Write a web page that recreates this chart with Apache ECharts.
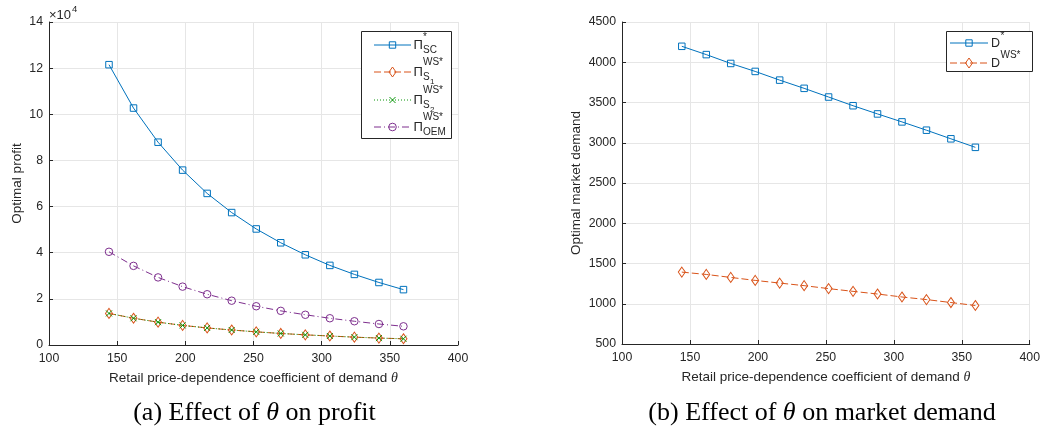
<!DOCTYPE html>
<html>
<head>
<meta charset="utf-8">
<script src="https://cdn.jsdelivr.net/npm/echarts@6/dist/echarts.min.js"></script>
<style>
  html, body { margin: 0; padding: 0; background: #ffffff; }
  #chart { width: 1043px; height: 436px; }
</style>
</head>
<body>
<div id="chart"></div>
<script>
// Retail price-dependence coefficient of demand (theta)
const theta = [144, 162, 180, 198, 216, 234, 252, 270, 288, 306, 324, 342, 360];

// Optimal profits
const profitSC  = [121500, 102700, 87900, 75800, 65700, 57400, 50300, 44300, 39100, 34500, 30600, 27100, 24000];
const profitS1  = [13700, 11600, 9900, 8500, 7400, 6500, 5700, 5000, 4400, 3900, 3400, 3000, 2700];
const profitS2  = [13700, 11600, 9900, 8500, 7400, 6500, 5700, 5000, 4400, 3900, 3400, 3000, 2700];
const profitOEM = [40400, 34300, 29300, 25300, 22000, 19200, 16800, 14800, 13100, 11600, 10300, 9100, 8100];

// Optimal market demand
const demandStar = [4198, 4095, 3985, 3886, 3778, 3676, 3568, 3460, 3358, 3259, 3156, 3049, 2943];
const demandWS   = [1393, 1364, 1327, 1290, 1257, 1225, 1188, 1154, 1121, 1084, 1052, 1015, 978];

// Axis ticks
const xTicks = { min: 100, max: 400, step: 50 };
const profitTicks = { min: 0, max: 140000, step: 20000, scale: 10000 };
const demandTicks = { min: 500, max: 4500, step: 500 };

const C_BLUE = '#0072BD', C_ORANGE = '#D95319', C_GREEN = '#0a960a', C_PURPLE = '#7E2F8E';
const C_AXIS = '#262626', C_GRID = '#e6e6e6';
const SANS = '"Liberation Sans", Arial, Helvetica, sans-serif';
const SERIF = '"Liberation Serif", "Times New Roman", serif';

const pairs = (ys) => theta.map((t, i) => [t, ys[i]]);

function xAxis(gridIndex) {
  return {
    type: 'value', gridIndex, min: xTicks.min, max: xTicks.max, interval: xTicks.step,
    name: 'Retail price-dependence coefficient of demand {t|θ}',
    nameLocation: 'middle', nameGap: 26,
    nameTextStyle: {
      color: C_AXIS, fontFamily: SANS, fontSize: 13.5,
      rich: { t: { fontFamily: SERIF, fontStyle: 'italic', fontSize: 14, color: C_AXIS } }
    },
    axisLine: { show: true, onZero: false, lineStyle: { color: C_AXIS, width: 1 } },
    axisTick: { show: true, inside: true, length: 4, lineStyle: { color: C_AXIS } },
    axisLabel: { color: C_AXIS, fontFamily: SANS, fontSize: 12.3, margin: 8 },
    splitLine: { show: true, lineStyle: { color: C_GRID, width: 1 } }
  };
}

function yAxis(gridIndex, ticks, name, nameGap, formatter) {
  return {
    type: 'value', gridIndex, min: ticks.min, max: ticks.max, interval: ticks.step,
    name, nameLocation: 'middle', nameGap,
    nameTextStyle: { color: C_AXIS, fontFamily: SANS, fontSize: 13.5 },
    axisLine: { show: true, onZero: false, lineStyle: { color: C_AXIS, width: 1 } },
    axisTick: { show: true, inside: true, length: 4, lineStyle: { color: C_AXIS } },
    axisLabel: { color: C_AXIS, fontFamily: SANS, fontSize: 12.3, margin: 6, formatter },
    splitLine: { show: true, lineStyle: { color: C_GRID, width: 1 } }
  };
}

function lineSeries(name, xi, yi, ys, color, dash, symbol, size) {
  return {
    name, type: 'line', xAxisIndex: xi, yAxisIndex: yi, data: pairs(ys),
    symbol, symbolSize: size, showSymbol: true, showAllSymbol: true,
    lineStyle: { color, width: 1, type: dash || 'solid' },
    itemStyle: { color: 'rgba(0,0,0,0)', borderColor: color, borderWidth: 1 },
    emphasis: { disabled: true },
    z: 2
  };
}

const X_PATH = 'path://M0,0L10,10M10,0L0,10';

// ---- legend drawing helpers ----
function legendSymbol(kind, cx, cy, color) {
  const st = { fill: 'none', stroke: color, lineWidth: 1 };
  if (kind === 'rect') return [{ type: 'rect', z: 101, shape: { x: cx - 3.2, y: cy - 3.2, width: 6.4, height: 6.4 }, style: st }];
  if (kind === 'diamond') return [{ type: 'polygon', z: 101, shape: { points: [[cx, cy - 5], [cx + 3.5, cy], [cx, cy + 5], [cx - 3.5, cy]] }, style: st }];
  if (kind === 'circle') return [{ type: 'circle', z: 101, shape: { cx, cy, r: 3.8 }, style: st }];
  return [
    { type: 'line', z: 101, shape: { x1: cx - 3, y1: cy - 3, x2: cx + 3, y2: cy + 3 }, style: st },
    { type: 'line', z: 101, shape: { x1: cx + 3, y1: cy - 3, x2: cx - 3, y2: cy + 3 }, style: st }
  ];
}

function txt(text, x, y, size, family, extra) {
  return {
    type: 'text', z: 102, x, y,
    style: Object.assign({ text, fill: C_AXIS, fontSize: size, fontFamily: family || SANS, align: 'left', verticalAlign: 'middle' }, extra || {})
  };
}

function legendBox(x, y, w, h) {
  return { type: 'rect', z: 100, shape: { x, y, width: w, height: h }, style: { fill: '#ffffff', stroke: C_AXIS, lineWidth: 1 } };
}

function legendEntry(x1, x2, y, color, dash, sym) {
  const cx = (x1 + x2) / 2;
  return [
    { type: 'line', z: 101, shape: { x1, y1: y, x2, y2: y }, style: { stroke: color, lineWidth: 1, lineDash: dash || null } }
  ].concat(legendSymbol(sym, cx, y, color));
}

const profitLegend = [
  { y: 45,  color: C_BLUE,   dash: null,         sym: 'rect',    sup: '*',   sub: 'SC',  subsub: '' },
  { y: 72,  color: C_ORANGE, dash: [7, 3],       sym: 'diamond', sup: 'WS*', sub: 'S',   subsub: '1' },
  { y: 100, color: C_GREEN,  dash: [1, 2],       sym: 'x',       sup: 'WS*', sub: 'S',   subsub: '2' },
  { y: 127, color: C_PURPLE, dash: [7, 3, 1, 3], sym: 'circle',  sup: 'WS*', sub: 'OEM', subsub: '' }
];
const demandLegend = [
  { y: 43, color: C_BLUE,   dash: null,   sym: 'rect',    sup: '*' },
  { y: 63, color: C_ORANGE, dash: [7, 3], sym: 'diamond', sup: 'WS*' }
];

const graphics = [];
graphics.push(legendBox(361.5, 31.5, 90, 107));
profitLegend.forEach(e => {
  graphics.push(...legendEntry(374, 411, e.y, e.color, e.dash, e.sym));
  graphics.push(txt('Π', 413.5, e.y + 0.5, 13));
  graphics.push(txt(e.sup, 423, e.y - (e.sup === '*' ? 8 : 9.5), 10));
  graphics.push(txt(e.sub, 423, e.y + 5.5, 10));
  if (e.subsub) graphics.push(txt(e.subsub, 430, e.y + 10, 8));
});
graphics.push(legendBox(946.5, 31.5, 86, 40));
demandLegend.forEach(e => {
  graphics.push(...legendEntry(950, 988, e.y, e.color, e.dash, e.sym));
  graphics.push(txt('D', 991, e.y + 0.5, 12.5));
  graphics.push(txt(e.sup, 1000.5, e.y - (e.sup === '*' ? 7 : 7.5), 10));
});

// exponent marker for the profit axis
graphics.push(txt('×10', 49, 15, 13));
graphics.push(txt('4', 72, 9.5, 9.5));

// sub-figure captions
const captionRich = { i: { fontFamily: SERIF, fontStyle: 'italic', fontSize: 26, fill: '#000000' } };
graphics.push(txt('(a) Effect of {i|θ} on profit', 254.5, 413, 26, SERIF, { align: 'center', fill: '#000000', rich: captionRich }));
graphics.push(txt('(b) Effect of {i|θ} on market demand', 822, 413, 26, SERIF, { align: 'center', fill: '#000000', rich: captionRich }));

const option = {
  animation: false,
  backgroundColor: '#ffffff',
  grid: [
    { left: 49, top: 22, width: 409, height: 323, containLabel: false },
    { left: 622, top: 22, width: 410, height: 322, containLabel: false }
  ],
  xAxis: [xAxis(0), xAxis(1)],
  yAxis: [
    yAxis(0, profitTicks, 'Optimal profit', 25, v => String(v / profitTicks.scale)),
    yAxis(1, demandTicks, 'Optimal market demand', 39, v => String(v))
  ],
  series: [
    lineSeries('Π*SC', 0, 0, profitSC, C_BLUE, null, 'rect', 6.5),
    lineSeries('ΠWS*S1', 0, 0, profitS1, C_ORANGE, [7, 3], 'diamond', [7, 10]),
    lineSeries('ΠWS*S2', 0, 0, profitS2, C_GREEN, [1, 2], X_PATH, 6),
    lineSeries('ΠWS*OEM', 0, 0, profitOEM, C_PURPLE, [7, 3, 1, 3], 'circle', 7.5),
    lineSeries('D*', 1, 1, demandStar, C_BLUE, null, 'rect', 6.5),
    lineSeries('DWS*', 1, 1, demandWS, C_ORANGE, [7, 3], 'diamond', [7, 10])
  ],
  graphic: { elements: graphics }
};

const chart = echarts.init(document.getElementById('chart'), null, { renderer: 'canvas' });
chart.setOption(option);
</script>
</body>
</html>
